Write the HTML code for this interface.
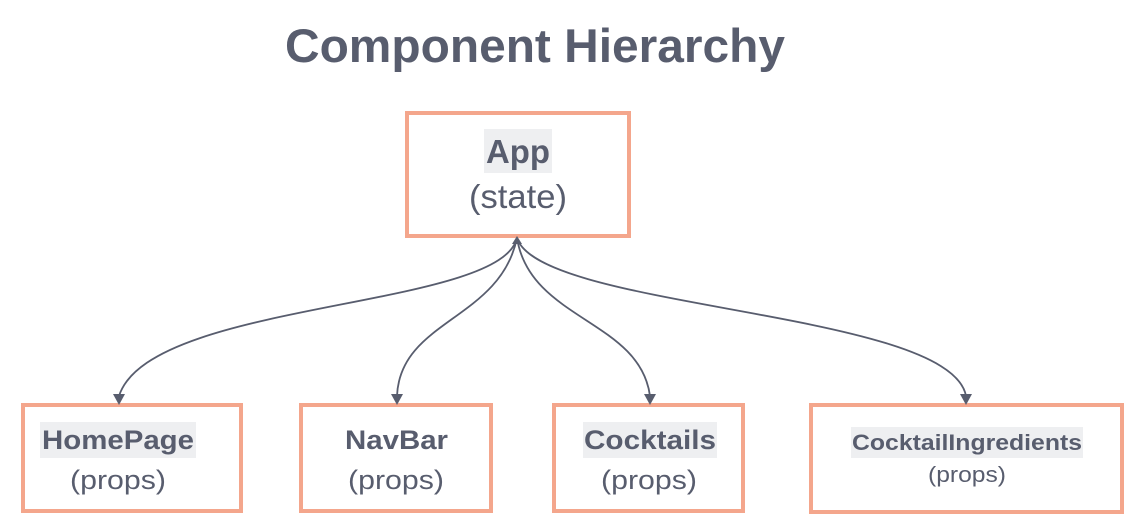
<!DOCTYPE html>
<html><head><style>
html,body{margin:0;padding:0;background:#fff;width:1138px;height:528px;overflow:hidden}
</style></head><body>
<svg width="1138" height="528" viewBox="0 0 1138 528" xmlns="http://www.w3.org/2000/svg" font-family="Liberation Sans, sans-serif">
<text x="285" y="62" textLength="500" lengthAdjust="spacingAndGlyphs" font-size="47" font-weight="bold" fill="#585d6e">Component Hierarchy</text>
<g fill="#fff" stroke="#f4a68c" stroke-width="4">
<rect x="407" y="113" width="222" height="123"/>
<rect x="23" y="405" width="218" height="106"/>
<rect x="301" y="405" width="190" height="106"/>
<rect x="554" y="405" width="189" height="106"/>
<rect x="811" y="405" width="311" height="107"/>
</g>
<g fill="none" stroke="#585d6e" stroke-width="1.8">
<path d="M517,238 C500,310 150,300 119,396"/>
<path d="M517,238 C500,320 400,320 397,396"/>
<path d="M517,238 C530,320 640,320 650,396"/>
<path d="M517,238 C540,310 950,310 966,396"/>
</g>
<g fill="#585d6e">
<path d="M113,394 L125,394 L119,405Z"/>
<path d="M391,394 L403,394 L397,405Z"/>
<path d="M644,394 L656,394 L650,405Z"/>
<path d="M960,394 L972,394 L966,405Z"/>
<path d="M512,244 L522,244 L517,236Z"/>
</g>
<g fill="#eeeff1">
<rect x="484" y="129" width="68" height="44"/>
<rect x="40" y="422" width="156" height="36"/>
<rect x="583" y="422" width="134" height="36"/>
<rect x="851" y="427" width="232" height="31"/>
</g>
<g fill="#585d6e">
<text x="486" y="163" textLength="64" lengthAdjust="spacingAndGlyphs" font-size="33" font-weight="bold">App</text>
<text x="469" y="208" textLength="98" lengthAdjust="spacingAndGlyphs" font-size="33">(state)</text>
<text x="42" y="449" textLength="152" lengthAdjust="spacingAndGlyphs" font-size="27" font-weight="bold">HomePage</text>
<text x="70" y="489" textLength="96" lengthAdjust="spacingAndGlyphs" font-size="27">(props)</text>
<text x="345" y="449" textLength="103" lengthAdjust="spacingAndGlyphs" font-size="27" font-weight="bold">NavBar</text>
<text x="348" y="489" textLength="96" lengthAdjust="spacingAndGlyphs" font-size="27">(props)</text>
<text x="584" y="449" textLength="132" lengthAdjust="spacingAndGlyphs" font-size="27" font-weight="bold">Cocktails</text>
<text x="601" y="489" textLength="96" lengthAdjust="spacingAndGlyphs" font-size="27">(props)</text>
<text x="852" y="450" textLength="230" lengthAdjust="spacingAndGlyphs" font-size="22" font-weight="bold">CocktailIngredients</text>
<text x="928" y="482" textLength="78" lengthAdjust="spacingAndGlyphs" font-size="22">(props)</text>
</g>
</svg>
</body></html>
